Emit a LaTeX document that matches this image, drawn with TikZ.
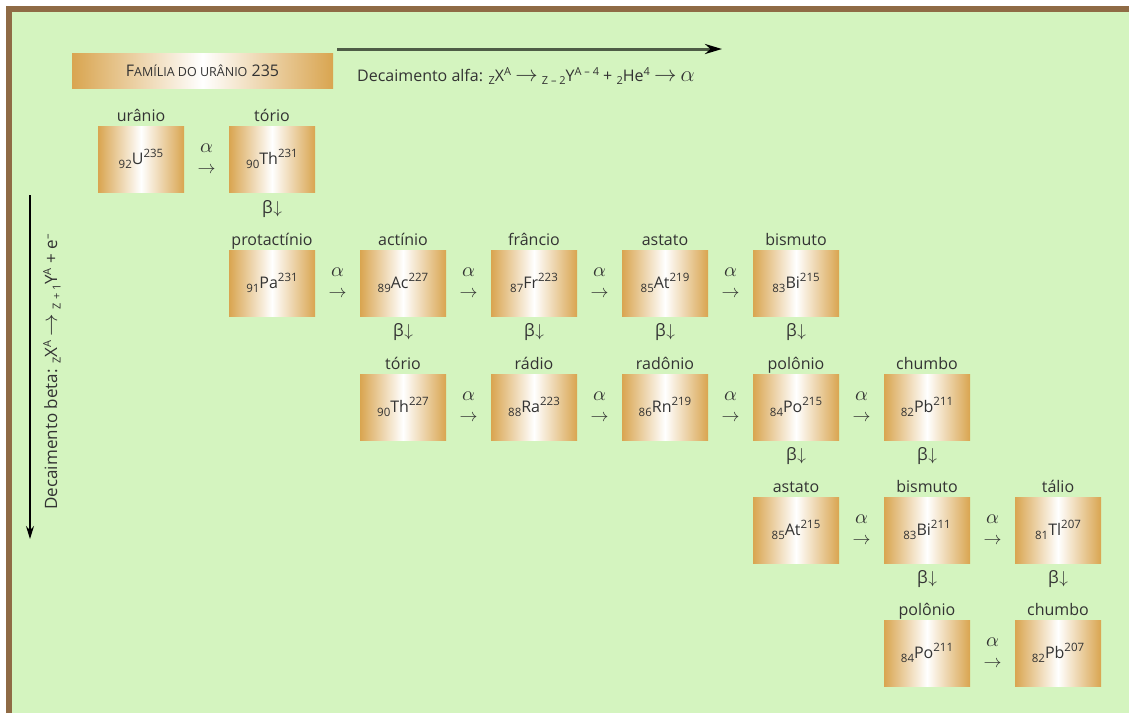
\documentclass[tikz,border=0pt]{standalone}
\usepackage{graphicx}
\usepackage{fontspec}
\setmainfont{Open Sans}
\usetikzlibrary{arrows.meta}
\definecolor{bgc}{HTML}{D4F4BF}
\definecolor{framec}{HTML}{8F6B45}
\definecolor{boxc}{HTML}{D9A550}
\definecolor{txtc}{HTML}{333333}
\definecolor{arrc}{HTML}{4E5C46}
\newcommand\nuc[3]{\raisebox{-4pt}{\fontsize{11.5}{12}\selectfont #1}#2\raisebox{6.5pt}{\fontsize{11.5}{12}\selectfont #3}}
\newcommand\lo[1]{\raisebox{-3.5pt}{\fontsize{11}{11}\selectfont #1}}
\newcommand\hi[1]{\raisebox{6pt}{\fontsize{11}{11}\selectfont #1}}
\newcommand\alstep{\scalebox{2}{$\alpha$}\\\scalebox{1.8}{$\rightarrow$}}
\begin{document}
\begin{tikzpicture}[x=1pt,y=-1pt,
  every node/.style={text=txtc},
  nbox/.style={minimum width=86pt,minimum height=66pt,inner sep=0pt,
    left color=boxc,right color=boxc,middle color=white,
    font=\fontsize{16}{18}\selectfont},
  nlab/.style={font=\fontsize{16}{18}\selectfont,inner sep=1.5pt,text height=11pt,text depth=3pt},
  alab/.style={align=center,inner sep=0pt,font=\fontsize{10}{21}\selectfont},
  blab/.style={font=\fontsize{17}{19}\selectfont,inner sep=0pt},
  tbox/.style={minimum width=261pt,minimum height=35pt,inner sep=0pt,
    left color=boxc,right color=boxc,middle color=white},
  rtext/.style={font=\fontsize{16}{18}\selectfont,inner sep=0pt}
]
\useasboundingbox (0,0) rectangle (1129,713);
\fill[white] (0,0) rectangle (1129,713);
\fill[bgc] (9,8) rectangle (1129,713);
\draw[framec,line width=6pt] (9,713) -- (9,8.5) -- (1129,8.5);

% title
\node[tbox] (title) at (202.5,70.5) {\fontsize{16}{18}\selectfont F{\fontsize{12.5}{14}\selectfont AMÍLIA DO URÂNIO} 235};

% alpha direction arrow
\coordinate (aS) at (337,49);
\coordinate (aE) at (722,49);
\draw[arrc,line width=3pt,-{Stealth[length=17pt,width=10pt,color=black]}] (aS) -- (aE);
\node[rtext,anchor=west] (alfa) at (357,76) {Decaimento alfa: \lo{Z}X\hi{A} \scalebox{1.3}{$\rightarrow$} \lo{Z – 2}Y\hi{A – 4} + \lo{2}He\hi{4} \scalebox{1.3}{$\rightarrow$} \scalebox{1.3}{$\alpha$}};

% beta direction arrow
\coordinate (bS) at (30,195);
\coordinate (bE) at (30,539);
\draw[black,line width=1.5pt,-{Stealth[length=13pt,width=8pt]}] (bS) -- (bE);
\node[rtext,rotate=90,font=\fontsize{17}{19}\selectfont] (beta) at (52,372) {Decaimento beta: \lo{Z}X\hi{A} \scalebox{1.3}{$\rightarrow$} \lo{Z + 1}Y\hi{A} + e\hi{–}};

% nuclides
\node[nbox,label={[nlab]above:urânio}] (U235) at (141,159) {\nuc{92}{U}{235}};
\node[nbox,label={[nlab]above:tório}] (Th231) at (272,159) {\nuc{90}{Th}{231}};

\node[nbox,label={[nlab]above:protactínio}] (Pa231) at (272,283) {\nuc{91}{Pa}{231}};
\node[nbox,label={[nlab]above:actínio}] (Ac227) at (403,283) {\nuc{89}{Ac}{227}};
\node[nbox,label={[nlab]above:frâncio}] (Fr223) at (534,283) {\nuc{87}{Fr}{223}};
\node[nbox,label={[nlab]above:astato}] (At219) at (665,283) {\nuc{85}{At}{219}};
\node[nbox,label={[nlab]above:bismuto}] (Bi215) at (796,283) {\nuc{83}{Bi}{215}};

\node[nbox,label={[nlab]above:tório}] (Th227) at (403,407) {\nuc{90}{Th}{227}};
\node[nbox,label={[nlab]above:rádio}] (Ra223) at (534,407) {\nuc{88}{Ra}{223}};
\node[nbox,label={[nlab]above:radônio}] (Rn219) at (665,407) {\nuc{86}{Rn}{219}};
\node[nbox,label={[nlab]above:polônio}] (Po215) at (796,407) {\nuc{84}{Po}{215}};
\node[nbox,label={[nlab]above:chumbo}] (Pb211) at (927,407) {\nuc{82}{Pb}{211}};

\node[nbox,label={[nlab]above:astato}] (At215) at (796,530) {\nuc{85}{At}{215}};
\node[nbox,label={[nlab]above:bismuto}] (Bi211) at (927,530) {\nuc{83}{Bi}{211}};
\node[nbox,label={[nlab]above:tálio}] (Tl207) at (1058,530) {\nuc{81}{Tl}{207}};

\node[nbox,label={[nlab]above:polônio}] (Po211) at (927,653) {\nuc{84}{Po}{211}};
\node[nbox,label={[nlab]above:chumbo}] (Pb207) at (1058,653) {\nuc{82}{Pb}{207}};

% alpha steps
\foreach \x/\y/\n in {206.5/159/a1, 337.5/283/a2, 468.5/283/a3, 599.5/283/a4, 730.5/283/a5,
  468.5/407/a6, 599.5/407/a7, 730.5/407/a8, 861.5/407/a9,
  861.5/530/a10, 992.5/530/a11, 992.5/653/a12}
  \node[alab] (\n) at (\x,\y) {\alstep};

% beta steps
\foreach \x/\y/\n in {272/209/b1, 403/332/b2, 534/332/b3, 665/332/b4, 796/332/b5,
  796/456/b6, 927/456/b7, 927/579/b8, 1058/579/b9}
  \node[blab] (\n) at (\x,\y) {β\kern0.5pt$\downarrow$};
\end{tikzpicture}
\end{document}
